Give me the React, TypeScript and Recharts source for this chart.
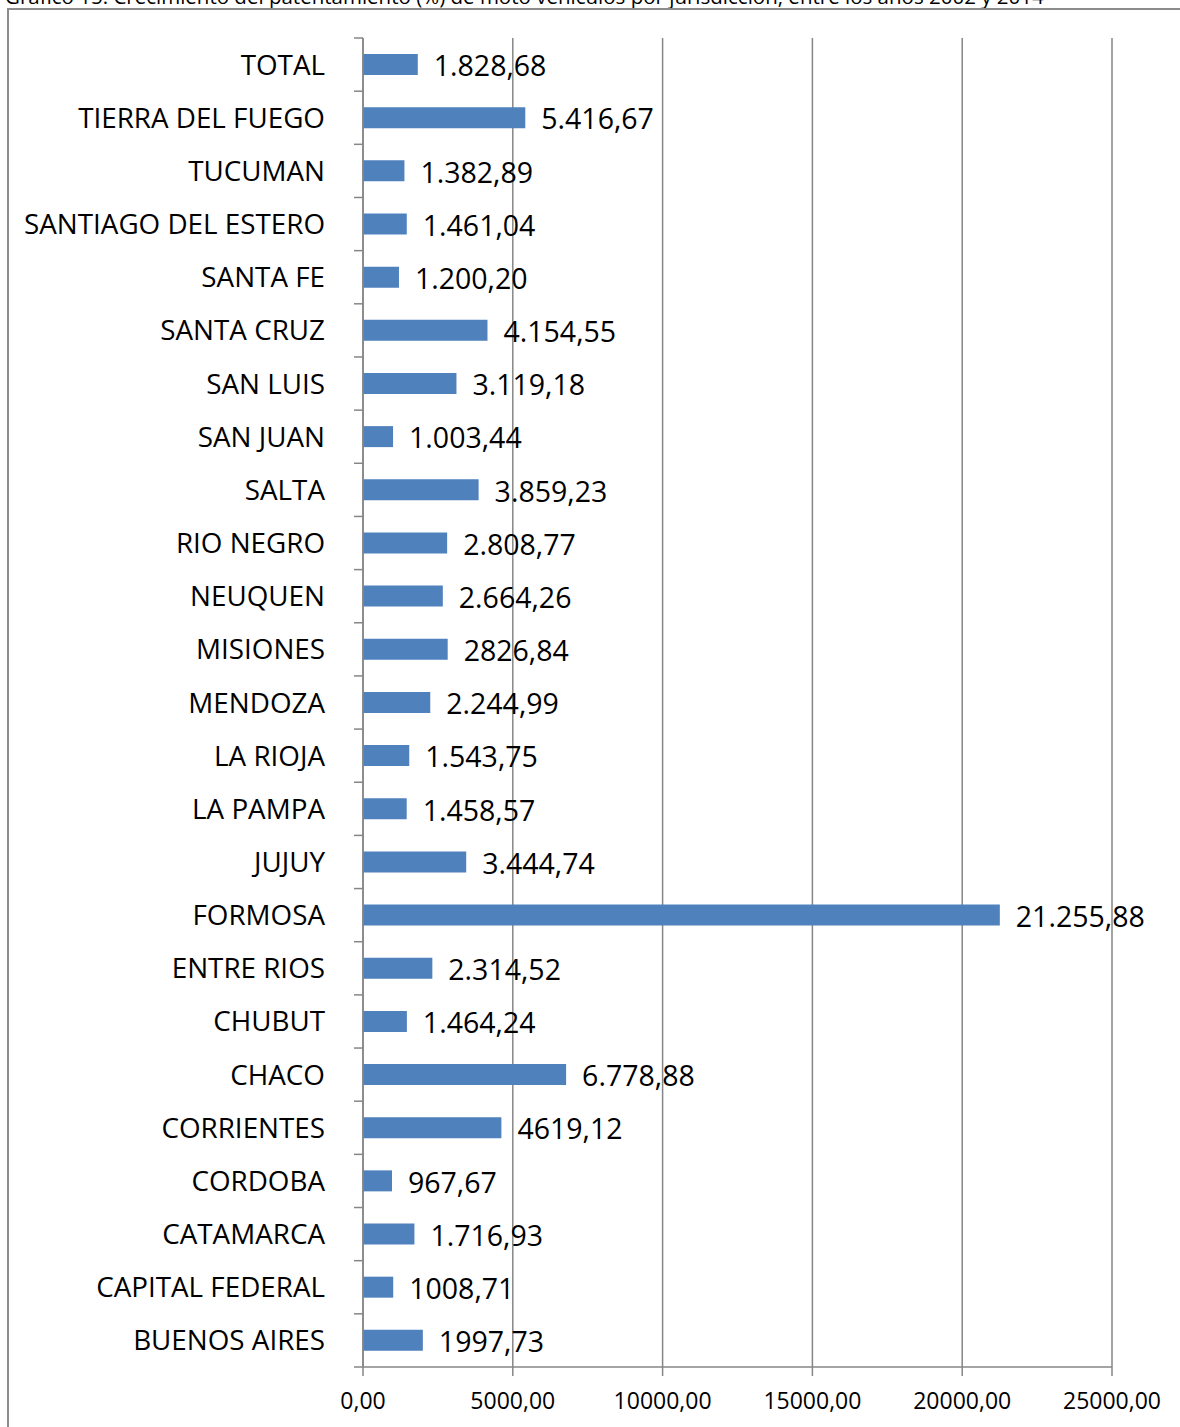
import React from 'react';
import { BarChart, Bar, XAxis, YAxis, CartesianGrid, LabelList } from 'recharts';

const categories = [
  'TOTAL', 'TIERRA DEL FUEGO', 'TUCUMAN', 'SANTIAGO DEL ESTERO', 'SANTA FE', 'SANTA CRUZ',
  'SAN LUIS', 'SAN JUAN', 'SALTA', 'RIO NEGRO', 'NEUQUEN', 'MISIONES', 'MENDOZA',
  'LA RIOJA', 'LA PAMPA', 'JUJUY', 'FORMOSA', 'ENTRE RIOS', 'CHUBUT', 'CHACO',
  'CORRIENTES', 'CORDOBA', 'CATAMARCA', 'CAPITAL FEDERAL', 'BUENOS AIRES',
];

const values = [
  1828.68, 5416.67, 1382.89, 1461.04, 1200.2, 4154.55,
  3119.18, 1003.44, 3859.23, 2808.77, 2664.26, 2826.84, 2244.99,
  1543.75, 1458.57, 3444.74, 21255.88, 2314.52, 1464.24, 6778.88,
  4619.12, 967.67, 1716.93, 1008.71, 1997.73,
];

const valueLabels = [
  '1.828,68', '5.416,67', '1.382,89', '1.461,04', '1.200,20', '4.154,55',
  '3.119,18', '1.003,44', '3.859,23', '2.808,77', '2.664,26', '2826,84', '2.244,99',
  '1.543,75', '1.458,57', '3.444,74', '21.255,88', '2.314,52', '1.464,24', '6.778,88',
  '4619,12', '967,67', '1.716,93', '1008,71', '1997,73',
];

const xTicks = [0, 5000, 10000, 15000, 20000, 25000];
const xTickLabels = ['0,00', '5000,00', '10000,00', '15000,00', '20000,00', '25000,00'];

const title =
  'Gráfico 15: Crecimiento del patentamiento (%) de moto vehículos por jurisdicción,  entre los años 2002 y 2014';

const data = categories.map((name, i) => ({ name, value: values[i], label: valueLabels[i] }));

const W = 1180;
const H = 1427;
const M_TOP = 38;
const X_AXIS_H = 60;
const PLOT_H = H - M_TOP - X_AXIS_H;
const BAND = PLOT_H / categories.length;
const FONT = '"Open Sans", "Noto Sans", sans-serif';
const AXIS_COLOR = '#868686';
const Y_TICK_MARGIN = 29;
const Y_TICK_SIZE = 9;

function CatTick(props: any) {
  const { x, y, payload, index } = props;
  const ax = x + Y_TICK_SIZE + Y_TICK_MARGIN;
  const last = index === categories.length - 1;
  return (
    <g>
      <text x={x} y={y} dy="0.36em" textAnchor="end" fill="#000" fontSize={27.8} fontFamily={FONT}>
        {payload.value}
      </text>
      <line x1={ax - Y_TICK_SIZE} x2={ax} y1={y - BAND / 2} y2={y - BAND / 2} stroke={AXIS_COLOR} strokeWidth={1.5} />
      {last && (
        <line x1={ax - Y_TICK_SIZE} x2={ax} y1={y + BAND / 2} y2={y + BAND / 2} stroke={AXIS_COLOR} strokeWidth={1.5} />
      )}
    </g>
  );
}

function ValueLabel(props: any) {
  const { x, y, width, height, index } = props;
  return (
    <text
      x={x + width + 16}
      y={y + height / 2 + 1.5}
      dy="0.36em"
      textAnchor="start"
      fill="#000"
      fontSize={28.5}
      fontFamily={FONT}
    >
      {valueLabels[index]}
    </text>
  );
}

export default function App() {
  return (
    <div style={{ position: 'absolute', left: 0, top: 0, width: W, height: H, overflow: 'hidden', background: '#fff' }}>
      <svg width={W} height={20} style={{ position: 'absolute', left: 0, top: 0 }}>
        <text x={5} y={4} fontSize={20.5} fontFamily={FONT} fill="#000">
          {title}
        </text>
      </svg>
      <div
        style={{
          position: 'absolute',
          left: 7,
          top: 8,
          width: W + 20,
          height: H + 20,
          border: '2px solid #8c8c8c',
          boxSizing: 'border-box',
        }}
      />
      <div style={{ position: 'absolute', left: 0, top: 0 }}>
        <BarChart
          width={W}
          height={H}
          data={data}
          layout="vertical"
          margin={{ top: M_TOP, right: 68, bottom: 0, left: 0 }}
          barSize={21}
        >
          <CartesianGrid horizontal={false} vertical stroke={AXIS_COLOR} strokeWidth={1.5} />
          <XAxis
            type="number"
            domain={[0, 25000]}
            ticks={xTicks}
            interval={0}
            height={X_AXIS_H}
            tickSize={9}
            tickMargin={17}
            stroke={AXIS_COLOR}
            strokeWidth={1.5}
            tickFormatter={(v: number) => xTickLabels[xTicks.indexOf(v)]}
            tick={{ fill: '#000', fontSize: 23, fontFamily: FONT }}
          />
          <YAxis
            type="category"
            dataKey="name"
            width={363}
            interval={0}
            tickLine={false}
            tickSize={Y_TICK_SIZE}
            tickMargin={Y_TICK_MARGIN}
            stroke={AXIS_COLOR}
            strokeWidth={1.5}
            tick={<CatTick />}
          />
          <Bar dataKey="value" fill="#4f81bd" isAnimationActive={false}>
            <LabelList dataKey="label" content={<ValueLabel />} />
          </Bar>
        </BarChart>
      </div>
    </div>
  );
}
